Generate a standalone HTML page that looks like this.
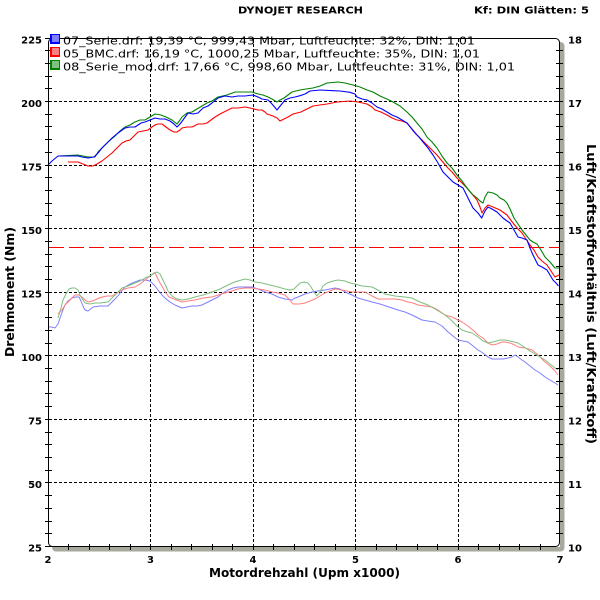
<!DOCTYPE html>
<html><head><meta charset="utf-8"><style>
html,body{margin:0;padding:0;background:#fff;}
svg{display:block;}
text{fill:#000;}
.b{font-family:"DejaVu Sans","Liberation Sans",sans-serif;font-weight:bold;font-size:10px;}
.lg{font-family:"DejaVu Sans","Liberation Sans",sans-serif;font-size:10.5px;}
</style></head><body>
<svg width="600" height="600" viewBox="0 0 600 600" xmlns="http://www.w3.org/2000/svg">
<rect x="0" y="0" width="600" height="600" fill="#fff"/>
<!-- shadow -->
<rect x="52" y="42" width="512.5" height="509.5" rx="4" fill="#a9a89f"/>
<rect x="48" y="38" width="512" height="509" fill="#fff"/>

<!-- grid -->
<g stroke="#000" stroke-width="1" stroke-dasharray="3,2" shape-rendering="crispEdges" fill="none">
<path d="M49 101.5H559M49 165.5H559M49 228.5H559M49 292.5H559M49 355.5H559M49 419.5H559M49 482.5H559"/>
<path d="M150.5 39V546M253.5 39V546M355.5 39V546M458.5 39V546"/>
</g>

<!-- AFR reference -->
<path d="M49 247.5H559" stroke="#ff0000" stroke-width="1" stroke-dasharray="15,5" shape-rendering="crispEdges"/>

<!-- AFR curves -->
<g fill="none" stroke-width="1" stroke-linejoin="round">
<polyline stroke="#7f7fff" points="48,327 52,327 55,328 58,324 60,318 63,310 65,305 68,301 72,298 76,297 79,297 81,301 83,306 85,310 88,311 93,307 100,306 108,306 112,302 117,297 121,292 125,287 130,284 135,282 140,280 145,280 150,281 152,283 155,286 158,290 162,295 165,298 170,302 175,305 182,308 187,307 192,306 197,306 202,305 210,301 218,297 223,293 228,290 233,288 238,287 245,287 252,287 258,289 265,292 272,294 278,297 285,299 292,300 295,298 298,297 305,294 312,292 318,291 325,290 330,289 335,288 340,289 345,292 352,295 358,298 365,300 372,302 380,304 386,306 392,308 398,310 405,312 412,315 418,318 422,320 428,321 435,322 442,326 448,332 453,336 458,340 463,341 468,342 473,346 478,350 483,353 488,357 492,359 497,359 503,359 508,358 512,357 515,355 518,357 522,360 525,362 530,366 535,370 540,373 545,377 550,380 555,383 558,385"/>
<polyline stroke="#ff7f7f" points="58,314 62,310 65,305 68,302 72,298 75,295 79,295 82,297 85,300 88,302 92,301 95,300 99,298 102,297 107,296 112,296 117,293 122,290 128,288 135,287 140,284 145,280 150,276 155,273 158,279 160,283 163,288 166,293 169,297 174,299 182,302 188,301 195,300 203,298 212,297 218,295 225,293 232,291 238,289 245,288 252,288 258,289 265,290 272,292 278,293 285,295 289,299 293,304 299,304 305,303 310,301 315,299 320,296 325,293 330,291 335,289 342,290 352,292 358,292 365,292 372,296 378,299 386,299 395,299 402,300 408,302 413,303 418,305 425,306 432,307 438,310 445,315 452,317 458,320 462,322 468,326 474,331 478,335 483,338 488,343 492,345 497,344 502,342 505,342 510,343 515,345 518,347 525,348 532,350 537,354 541,358 545,362 550,366 555,371 558,375"/>
<polyline stroke="#7fbf7f" points="58,318 61,308 63,300 66,294 69,289 72,288 75,288 78,290 80,295 83,300 85,303 90,304 95,303 100,303 108,302 113,297 118,292 122,288 128,286 135,283 140,281 145,278 150,276 154,273 157,272 160,274 162,278 165,284 168,291 172,296 177,299 182,300 188,299 195,297 203,295 212,292 220,289 226,286 232,283 238,281 245,279 250,280 255,282 262,283 270,285 278,287 285,289 290,290 294,289 297,286 300,283 304,282 308,283 311,287 314,292 317,296 320,292 323,286 327,283 333,281 338,280 345,281 350,283 355,284 362,286 372,287 378,290 385,294 395,296 405,297 412,298 420,302 428,305 435,309 440,312 445,315 450,319 455,324 458,327 462,330 468,332 472,333 478,337 483,341 488,343 493,342 500,340 505,340 510,341 518,343 524,347 530,351 535,354 540,357 545,360 550,364 555,368 558,370"/>
</g>

<!-- Torque curves -->
<g fill="none" stroke-width="1.1" stroke-linejoin="round">
<polyline stroke="#ff0000" points="68,162 78,162 83,164 88,166 93,166 97,164 102,161 107,157 112,153 117,148 122,143 126,141 130,140 134,136 138,132 143,131 148,130 152,127 155,125 158,124 162,124 166,127 170,130 174,132 177,132 180,130 182,128 187,127 192,127 198,124 203,124 207,123 211,120 215,117 220,114 226,111 232,108 238,108 245,107 250,108 254,109 258,110 262,110 265,112 267,114 273,116 277,118 280,121 284,119 288,117 293,114 297,113 301,112 305,110 313,106 320,105 327,104 337,102 350,101 358,102 367,104 372,107 375,110 381,112 387,115 392,118 397,120 402,121 407,123 412,129 417,135 422,140 427,145 432,150 437,155 442,161 447,167 452,172 457,178 462,183 467,188 472,194 477,200 480,207 482,213 485,208 488,205 493,207 500,210 507,215 510,219 513,223 518,229 522,233 526,239 530,245 534,250 538,257 542,261 547,265 551,271 555,277 559,275"/>
<polyline stroke="#008000" points="58,156 78,155 83,156 88,157 95,157 98,152 102,148 108,142 115,136 120,131 125,127 130,125 135,122 140,120 145,120 150,117 155,114 161,115 166,117 172,120 177,124 180,120 182,117 187,113 192,112 197,109 202,106 207,103 212,101 218,97 227,95 235,92 245,92 252,92 258,94 263,95 268,97 272,99 277,102 280,100 284,98 288,95 292,92 300,90 306,89 313,88 320,86 327,83 338,82 345,83 353,85 360,87 367,90 373,92 380,96 387,99 393,102 400,106 407,112 412,117 417,123 422,129 427,137 432,142 437,148 442,156 447,163 452,168 457,175 462,181 467,188 472,194 477,198 480,201 483,203 485,197 488,192 493,193 497,195 500,198 504,200 507,203 510,209 514,218 518,224 522,230 526,235 530,240 533,242 537,244 541,250 545,257 550,262 555,268 559,268"/>
<polyline stroke="#0000ff" points="48,165 52,161 58,156 78,156 82,157 88,158 94,157 98,153 102,148 107,143 112,138 118,133 125,128 130,127 135,127 141,123 145,122 150,120 155,118 160,119 165,119 170,121 174,124 177,127 180,124 183,120 188,113 193,114 198,113 203,108 208,106 212,103 218,98 225,96 232,97 238,96 245,96 253,95 258,97 262,99 268,100 272,104 277,110 281,105 285,100 290,98 295,97 300,95.7 305,94 310,91 320,90 333,90.7 340,91 350,92.3 355,94 357,97 362,99 367,100 372,103 377,107 382,109 387,112 392,115 397,117 402,120 407,123 411,128 415,133 419,137 423,142 428,148 433,155 438,163 443,172 448,177 453,182 458,185 463,188 468,198 473,208 478,213 481.7,218 485,211 488,207 492,209 497,212 500,215 503,218 507,221 510,223 514,230 518,237 522,238 527,240 530,248 533,255 536,261 538,265 542,267 547,270 550,275 553,280 556,283 558.5,286"/>
</g>

<!-- frame -->
<rect x="48.5" y="38.5" width="511" height="508" rx="4" fill="none" stroke="#000" stroke-width="1"/>

<!-- ticks -->
<g stroke="#000" stroke-width="1" shape-rendering="crispEdges" fill="none">
<path d="M45 546.5H52M45 533.5H52M45 521.5H52M45 508.5H52M45 495.5H52M45 482.5H52M45 470.5H52M45 457.5H52M45 444.5H52M45 432.5H52M45 419.5H52M45 406.5H52M45 393.5H52M45 381.5H52M45 368.5H52M45 355.5H52M45 343.5H52M45 330.5H52M45 317.5H52M45 304.5H52M45 292.5H52M45 279.5H52M45 266.5H52M45 254.5H52M45 241.5H52M45 228.5H52M45 215.5H52M45 203.5H52M45 190.5H52M45 177.5H52M45 165.5H52M45 152.5H52M45 139.5H52M45 126.5H52M45 114.5H52M45 101.5H52M45 88.5H52M45 76.5H52M45 63.5H52M45 50.5H52M45 38.5H52"/>
<path d="M556 533.5H563M556 521.5H563M556 508.5H563M556 495.5H563M556 482.5H563M556 470.5H563M556 457.5H563M556 444.5H563M556 432.5H563M556 419.5H563M556 406.5H563M556 393.5H563M556 381.5H563M556 368.5H563M556 355.5H563M556 343.5H563M556 330.5H563M556 317.5H563M556 304.5H563M556 292.5H563M556 279.5H563M556 266.5H563M556 254.5H563M556 241.5H563M556 228.5H563M556 215.5H563M556 203.5H563M556 190.5H563M556 177.5H563M556 165.5H563M556 152.5H563M556 139.5H563M556 126.5H563M556 114.5H563M556 101.5H563M556 88.5H563M556 76.5H563M556 63.5H563M556 50.5H563"/>
<path d="M68.5 544V550M89.5 544V550M109.5 544V550M130.5 544V550M150.5 544V550M171.5 544V550M191.5 544V550M212.5 544V550M232.5 544V550M253.5 544V550M273.5 544V550M294.5 544V550M314.5 544V550M335.5 544V550M355.5 544V550M376.5 544V550M396.5 544V550M417.5 544V550M437.5 544V550M458.5 544V550M478.5 544V550M499.5 544V550M519.5 544V550M540.5 544V550"/>
</g>

<!-- legend -->
<g shape-rendering="crispEdges">
<rect x="50" y="34" width="10" height="10" fill="#0000ff"/>
<rect x="52" y="35" width="7" height="7" fill="#8080ff"/>
<rect x="50" y="47" width="10" height="10" fill="#ff0000"/>
<rect x="52" y="48" width="7" height="7" fill="#ff8080"/>
<rect x="50" y="60" width="10" height="10" fill="#008000"/>
<rect x="52" y="61" width="7" height="7" fill="#80c080"/>
</g>
<text class="lg" x="63" y="44.5" textLength="412" lengthAdjust="spacingAndGlyphs">07_Serie.drf: 19,39 °C, 999,43 Mbar, Luftfeuchte: 32%, DIN: 1,01</text>
<text class="lg" x="63" y="57.5" textLength="417" lengthAdjust="spacingAndGlyphs">05_BMC.drf: 16,19 °C, 1000,25 Mbar, Luftfeuchte: 35%, DIN: 1,01</text>
<text class="lg" x="63" y="70.5" textLength="452" lengthAdjust="spacingAndGlyphs">08_Serie_mod.drf: 17,66 °C, 998,60 Mbar, Luftfeuchte: 31%, DIN: 1,01</text>

<!-- titles -->
<text class="b" x="238" y="13.5" textLength="125" lengthAdjust="spacingAndGlyphs">DYNOJET RESEARCH</text>
<text class="b" x="474" y="13.5" textLength="115" lengthAdjust="spacingAndGlyphs">Kf: DIN  Glätten: 5</text>

<!-- left labels -->
<g class="b" text-anchor="end">
<text x="42" y="43.5">225</text>
<text x="42" y="107">200</text>
<text x="42" y="170.5">175</text>
<text x="42" y="234">150</text>
<text x="42" y="297.5">125</text>
<text x="42" y="361">100</text>
<text x="42" y="424.5">75</text>
<text x="42" y="488">50</text>
<text x="42" y="551.5">25</text>
</g>
<!-- right labels -->
<g class="b">
<text x="568" y="43.5">18</text>
<text x="568" y="107">17</text>
<text x="568" y="170.5">16</text>
<text x="568" y="234">15</text>
<text x="568" y="297.5">14</text>
<text x="568" y="361">13</text>
<text x="568" y="424.5">12</text>
<text x="568" y="488">11</text>
<text x="568" y="551.5">10</text>
</g>
<!-- x labels -->
<g class="b" text-anchor="middle">
<text x="48" y="563">2</text>
<text x="150.5" y="563">3</text>
<text x="253" y="563">4</text>
<text x="355.5" y="563">5</text>
<text x="458" y="563">6</text>
<text x="560" y="563">7</text>
</g>

<text class="b" style="font-size:12px" x="209" y="577" textLength="191" lengthAdjust="spacingAndGlyphs">Motordrehzahl (Upm x1000)</text>
<text class="b" style="font-size:12.5px" text-anchor="middle" transform="translate(14,292) rotate(-90)" textLength="130" lengthAdjust="spacingAndGlyphs">Drehmoment (Nm)</text>
<text class="b" style="font-size:12.5px" text-anchor="middle" transform="translate(587,294) rotate(90)" textLength="300" lengthAdjust="spacingAndGlyphs">Luft/Kraftstoffverhältnis (Luft/Kraftstoff)</text>
</svg>
</body></html>
